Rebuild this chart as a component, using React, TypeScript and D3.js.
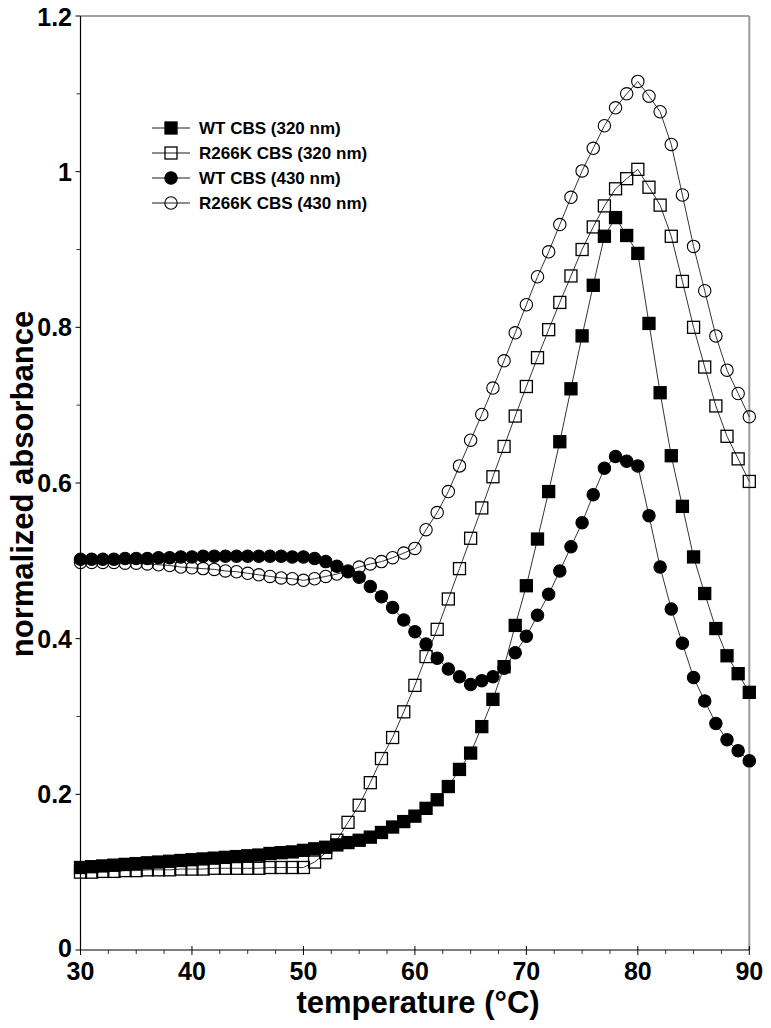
import React from "react";
import * as d3 from "d3";

const temperatures = [
  30, 31, 32, 33, 34, 35, 36, 37, 38, 39, 40, 41, 42, 43, 44, 45, 46, 47, 48, 49, 50,
  51, 52, 53, 54, 55, 56, 57, 58, 59, 60, 61, 62, 63, 64, 65, 66, 67, 68, 69, 70,
  71, 72, 73, 74, 75, 76, 77, 78, 79, 80, 81, 82, 83, 84, 85, 86, 87, 88, 89, 90,
];

const wt320 = [
  0.106, 0.107, 0.108, 0.109, 0.110, 0.111, 0.112, 0.113, 0.114, 0.115, 0.116,
  0.117, 0.118, 0.119, 0.120, 0.121, 0.122, 0.124, 0.125, 0.126, 0.128,
  0.130, 0.132, 0.135, 0.138, 0.141, 0.145, 0.151, 0.158, 0.165, 0.172,
  0.182, 0.193, 0.210, 0.232, 0.253, 0.287, 0.322, 0.364, 0.417, 0.468,
  0.528, 0.589, 0.653, 0.721, 0.789, 0.854, 0.917, 0.941, 0.918, 0.895,
  0.805, 0.716, 0.635, 0.570, 0.505, 0.458, 0.413, 0.378, 0.355, 0.331,
];

const r266k320 = [
  0.100, 0.100, 0.101, 0.101, 0.102, 0.102, 0.103, 0.103, 0.103, 0.104, 0.104,
  0.104, 0.105, 0.105, 0.105, 0.105, 0.105, 0.106, 0.106, 0.106, 0.106,
  0.113, 0.125, 0.141, 0.164, 0.186, 0.215, 0.246, 0.273, 0.306, 0.340,
  0.377, 0.412, 0.451, 0.490, 0.529, 0.568, 0.608, 0.647, 0.686, 0.724,
  0.761, 0.797, 0.832, 0.866, 0.900, 0.929, 0.956, 0.978, 0.991, 1.003,
  0.980, 0.957, 0.917, 0.859, 0.800, 0.749, 0.699, 0.660, 0.631, 0.602,
];

const wt430 = [
  0.502, 0.502, 0.502, 0.502, 0.503, 0.503, 0.503, 0.504, 0.504, 0.505, 0.505,
  0.506, 0.506, 0.506, 0.506, 0.506, 0.506, 0.506, 0.506, 0.505, 0.505,
  0.503, 0.499, 0.493, 0.486, 0.479, 0.467, 0.454, 0.440, 0.424, 0.409,
  0.393, 0.375, 0.361, 0.351, 0.341, 0.346, 0.351, 0.362, 0.382, 0.403,
  0.430, 0.457, 0.487, 0.518, 0.549, 0.585, 0.619, 0.634, 0.628, 0.622,
  0.558, 0.492, 0.438, 0.394, 0.350, 0.320, 0.291, 0.270, 0.256, 0.243,
];

const r266k430 = [
  0.498, 0.498, 0.498, 0.498, 0.497, 0.497, 0.496, 0.495, 0.494, 0.492, 0.491,
  0.490, 0.489, 0.487, 0.486, 0.484, 0.482, 0.480, 0.478, 0.477, 0.475,
  0.477, 0.480, 0.483, 0.487, 0.492, 0.496, 0.499, 0.504, 0.510, 0.516,
  0.540, 0.562, 0.589, 0.622, 0.655, 0.688, 0.722, 0.757, 0.793, 0.829,
  0.865, 0.897, 0.932, 0.967, 1.001, 1.030, 1.059, 1.082, 1.100, 1.116,
  1.097, 1.077, 1.035, 0.970, 0.904, 0.847, 0.789, 0.745, 0.715, 0.685,
];

const xTickValues = [30, 40, 50, 60, 70, 80, 90];
const xMinorTicks = [32.5, 35, 37.5, 42.5, 45, 47.5, 52.5, 55, 57.5, 62.5, 65, 67.5, 72.5, 75, 77.5, 82.5, 85, 87.5];
const yTickValues = [0, 0.2, 0.4, 0.6, 0.8, 1, 1.2];
const yTickLabels = ["0", "0.2", "0.4", "0.6", "0.8", "1", "1.2"];
const yMinorTicks = [0.1, 0.3, 0.5, 0.7, 0.9, 1.1];

const seriesNames = ["WT CBS (320 nm)", "R266K CBS (320 nm)", "WT CBS (430 nm)", "R266K CBS (430 nm)"];

type Shape = "square" | "circle";
const seriesDefs: { name: string; values: number[]; shape: Shape; filled: boolean }[] = [
  { name: seriesNames[0], values: wt320, shape: "square", filled: true },
  { name: seriesNames[1], values: r266k320, shape: "square", filled: false },
  { name: seriesNames[2], values: wt430, shape: "circle", filled: true },
  { name: seriesNames[3], values: r266k430, shape: "circle", filled: false },
];

const W = 771;
const H = 1028;
const left = 80.5;
const right = 749.3;
const top = 16;
const bottom = 950;

const tickFont = "'Liberation Sans', Arial, sans-serif";
const titleFont = "'Liberation Sans', Arial, sans-serif";

function Marker({ x, y, shape, filled }: { x: number; y: number; shape: Shape; filled: boolean }) {
  const s = 12;
  if (shape === "square") {
    return (
      <rect
        x={x - s / 2}
        y={y - s / 2}
        width={s}
        height={s}
        fill={filled ? "#000" : "none"}
        stroke="#000"
        strokeWidth={1.3}
      />
    );
  }
  return <circle cx={x} cy={y} r={6.2} fill={filled ? "#000" : "none"} stroke="#000" strokeWidth={1.1} />;
}

export default function App() {
  const x = d3.scaleLinear().domain([30, 90]).range([left, right]);
  const y = d3.scaleLinear().domain([0, 1.2]).range([bottom, top]);

  const line = d3
    .line<[number, number]>()
    .x((d) => x(d[0]))
    .y((d) => y(d[1]));

  const drawOrder = [1, 3, 0, 2];

  const legendRows = [128, 153, 178, 203];

  return (
    <svg
      width={W}
      height={H}
      style={{ position: "absolute", left: 0, top: 0, display: "block", background: "#fff" }}
    >
      <rect x={0} y={0} width={W} height={H} fill="#fff" />
      {/* frame */}
      <line x1={left} x2={right} y1={top} y2={top} stroke="#444" strokeWidth={1.2} />
      <line x1={right} x2={right} y1={top} y2={bottom} stroke="#9a9a9a" strokeWidth={2} />
      <line x1={left} x2={left} y1={top} y2={bottom} stroke="#000" strokeWidth={1.2} />
      <line x1={left} x2={right} y1={bottom} y2={bottom} stroke="#000" strokeWidth={1.2} />

      {/* x ticks */}
      {xTickValues.map((t) => (
        <g key={"xt" + t}>
          <line x1={x(t)} x2={x(t)} y1={bottom - 4} y2={bottom + 5} stroke="#000" strokeWidth={1} />
          <text
            x={x(t)}
            y={980}
            textAnchor="middle"
            fontFamily={tickFont}
            fontWeight="bold"
            fontSize={25}
            fill="#000"
          >
            {t}
          </text>
        </g>
      ))}
      {xMinorTicks.map((t) => (
        <line key={"xm" + t} x1={x(t)} x2={x(t)} y1={bottom} y2={bottom + 4} stroke="#000" strokeWidth={0.8} />
      ))}

      {/* y ticks */}
      {yTickValues.map((t, i) => (
        <g key={"yt" + t}>
          <line x1={left - 5} x2={left} y1={y(t)} y2={y(t)} stroke="#000" strokeWidth={1} />
          <text
            x={72}
            y={t === 0 ? y(t) - 2 : t === 1.2 ? y(t) + 1 : y(t)}
            dy="0.36em"
            textAnchor="end"
            fontFamily={tickFont}
            fontWeight="bold"
            fontSize={25}
            fill="#000"
          >
            {yTickLabels[i]}
          </text>
        </g>
      ))}
      {yMinorTicks.map((t) => (
        <line key={"ym" + t} x1={left - 4} x2={left} y1={y(t)} y2={y(t)} stroke="#000" strokeWidth={0.8} />
      ))}

      {/* axis titles */}
      <text
        x={418}
        y={1013}
        textAnchor="middle"
        fontFamily={titleFont}
        fontWeight="bold"
        fontSize={31}
        fill="#000"
      >
        temperature (°C)
      </text>
      <text
        transform={`translate(33,484) rotate(-90)`}
        textAnchor="middle"
        fontFamily={titleFont}
        fontWeight="bold"
        fontSize={31}
        fill="#000"
      >
        normalized absorbance
      </text>

      {/* series lines */}
      {drawOrder.map((si) => {
        const s = seriesDefs[si];
        const pts = temperatures.map((t, i) => [t, s.values[i]] as [number, number]);
        return <path key={"l" + si} d={line(pts) || ""} fill="none" stroke="#000" strokeWidth={0.8} />;
      })}
      {/* series markers */}
      {drawOrder.map((si) => {
        const s = seriesDefs[si];
        return (
          <g key={"m" + si}>
            {temperatures.map((t, i) => (
              <Marker key={i} x={x(t)} y={y(s.values[i])} shape={s.shape} filled={s.filled} />
            ))}
          </g>
        );
      })}

      {/* legend */}
      {seriesDefs.map((s, i) => (
        <g key={"lg" + i}>
          <line x1={152} x2={190} y1={legendRows[i]} y2={legendRows[i]} stroke="#000" strokeWidth={0.9} />
          <Marker x={171} y={legendRows[i]} shape={s.shape} filled={s.filled} />
          <text
            x={199}
            y={legendRows[i]}
            dy="0.36em"
            fontFamily={tickFont}
            fontWeight="bold"
            fontSize={17}
            fill="#000"
          >
            {s.name}
          </text>
        </g>
      ))}
    </svg>
  );
}
